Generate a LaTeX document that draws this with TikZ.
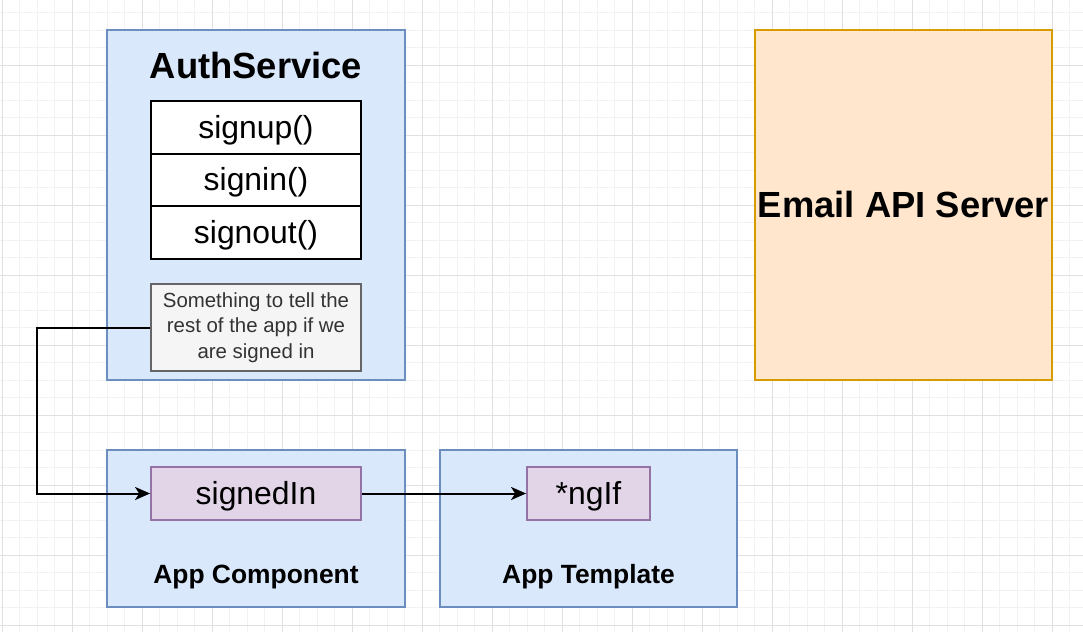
\documentclass[tikz,border=0pt]{standalone}
\usepackage{fontspec}
\setmainfont{Liberation Sans}
\usetikzlibrary{positioning,arrows.meta}
\definecolor{svcfill}{HTML}{DAE8FC}
\definecolor{svcline}{HTML}{6C8EBF}
\definecolor{apifill}{HTML}{FFE6CC}
\definecolor{apiline}{HTML}{D79B00}
\definecolor{varfill}{HTML}{E1D5E7}
\definecolor{varline}{HTML}{9673A6}
\definecolor{notefill}{HTML}{F5F5F5}
\definecolor{noteline}{HTML}{666666}
\definecolor{notetext}{HTML}{333333}
\tikzset{>={Stealth[length=15bp,width=13bp,inset=4bp]}}

\begin{document}
\begin{tikzpicture}[x=1bp,y=-1bp,
    minorgrid/.style={draw=black!5,line width=0.8bp},
    majorgrid/.style={draw=black!12,line width=0.9bp},
    svc/.style={draw=svcline,fill=svcfill,line width=1.8bp,inner sep=0pt},
    api/.style={draw=apiline,fill=apifill,line width=1.8bp,inner sep=0pt},
    method/.style={draw=black,fill=white,line width=1.8bp,minimum width=210bp,
        minimum height=52.5bp,inner sep=0pt,text height=28bp,text depth=6bp,
        font=\fontsize{32}{36}\selectfont},
    note/.style={draw=noteline,fill=notefill,line width=1.8bp,minimum width=210bp,
        minimum height=87bp,inner sep=0pt,align=center,
        text=notetext,font=\fontsize{20.5}{25.5}\selectfont},
    var/.style={draw=varline,fill=varfill,line width=1.8bp,minimum height=53bp,
        inner sep=0pt,text height=28bp,text depth=6bp,
        font=\fontsize{32}{36}\selectfont},
    caption/.style={inner sep=0pt,font=\bfseries\fontsize{26.5}{30}\selectfont},
    bigtitle/.style={inner sep=0pt,font=\bfseries\fontsize{36.5}{40}\selectfont},
    conn/.style={->,draw=black,line width=2bp}]
  \useasboundingbox (0,0) rectangle (1083,632);
  \fill[white] (0,0) rectangle (1083,632);
  % background grid
  \foreach \x in {2.3,19.8,...,1083} \draw[minorgrid] (\x,0) -- (\x,632);
  \foreach \y in {12.8,30.3,...,632} \draw[minorgrid] (0,\y) -- (1083,\y);
  \foreach \x in {2.3,72.3,...,1083} \draw[majorgrid] (\x,0) -- (\x,632);
  \foreach \y in {65.3,135.3,...,632} \draw[majorgrid] (0,\y) -- (1083,\y);

  % containers
  \node[svc,minimum width=298bp,minimum height=350bp] (auth) at (256,205) {};
  \node[svc,minimum width=298bp,minimum height=157bp] (comp) at (256,528.5) {};
  \node[svc,minimum width=297bp,minimum height=157bp] (tmpl) at (588.5,528.5) {};
  \node[api,minimum width=297bp,minimum height=350bp] (email) at (903.5,205) {};
  \node[bigtitle] at (email.center) {Email API Server};

  % auth service
  \node[bigtitle] (title) at (256,66) {AuthService};
  \node[method] (signup) at (256,127.5) {signup()};
  \node[method] (signin) at (256,180) {signin()};
  \node[method] (signout) at (256,232.5) {signout()};
  \node[note] (status) at (256,327.5) {Something to tell the\\rest of the app if we\\are signed in};

  % app component / template
  \node[var,minimum width=210bp] (signed) at (256,493.5) {signedIn};
  \node[caption] at (256,577) {App Component};
  \node[var,minimum width=123bp] (ngif) at (588.5,493.5) {*ngIf};
  \node[caption] at (588.5,577) {App Template};

  % connectors
  \coordinate (turn) at (37.3,493.5);
  \draw[conn] (status.west) -| (turn) -- (signed.west);
  \draw[conn] (signed.east) -- (ngif.west);
\end{tikzpicture}
\end{document}
